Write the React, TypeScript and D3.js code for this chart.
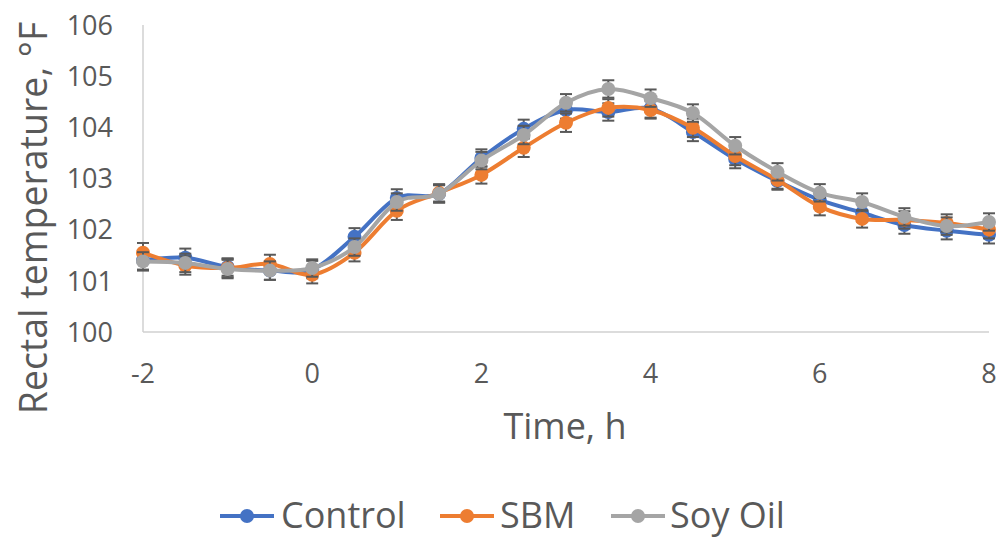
import React from "react";
import * as d3 from "d3";

// Sampling times (h) relative to challenge
const times = [-2, -1.5, -1, -0.5, 0, 0.5, 1, 1.5, 2, 2.5, 3, 3.5, 4, 4.5, 5, 5.5, 6, 6.5, 7, 7.5, 8];

// Mean rectal temperature (°F) per treatment
const control = [101.40, 101.45, 101.27, 101.20, 101.22, 101.86, 102.62, 102.70, 103.40, 103.97, 104.34, 104.30, 104.37, 103.91, 103.38, 102.95, 102.58, 102.33, 102.09, 101.98, 101.90];
const sbm = [101.55, 101.30, 101.25, 101.33, 101.12, 101.55, 102.37, 102.72, 103.07, 103.60, 104.09, 104.38, 104.34, 103.99, 103.44, 102.97, 102.45, 102.21, 102.19, 102.13, 102.00];
const soyOil = [101.38, 101.35, 101.23, 101.20, 101.25, 101.66, 102.54, 102.70, 103.35, 103.85, 104.48, 104.75, 104.57, 104.28, 103.64, 103.13, 102.72, 102.54, 102.25, 102.07, 102.15];

// Standard errors
const controlSe = [0.18, 0.18, 0.17, 0.18, 0.17, 0.17, 0.17, 0.17, 0.17, 0.18, 0.17, 0.17, 0.18, 0.18, 0.18, 0.17, 0.17, 0.17, 0.17, 0.17, 0.17];
const sbmSe = [0.19, 0.18, 0.18, 0.18, 0.17, 0.17, 0.18, 0.17, 0.17, 0.18, 0.18, 0.17, 0.17, 0.18, 0.18, 0.17, 0.17, 0.17, 0.17, 0.17, 0.17];
const soyOilSe = [0.18, 0.18, 0.18, 0.18, 0.17, 0.17, 0.17, 0.17, 0.17, 0.18, 0.17, 0.17, 0.17, 0.17, 0.17, 0.17, 0.17, 0.17, 0.17, 0.17, 0.17];

const seriesNames = ["Control", "SBM", "Soy Oil"];
const seriesColors = ["#4472C4", "#ED7D31", "#A5A5A5"];

const xTicks = [-2, 0, 2, 4, 6, 8];
const yTicks = [100, 101, 102, 103, 104, 105, 106];

const FONT = "'Open Sans', 'Noto Sans', sans-serif";
const TEXT = "#595959";

export default function App() {
  const x = d3.scaleLinear().domain([-2, 8]).range([143, 989]);
  const y = d3.scaleLinear().domain([100, 106]).range([332, 25]);

  const series = [
    { name: seriesNames[0], color: seriesColors[0], values: control, se: controlSe },
    { name: seriesNames[1], color: seriesColors[1], values: sbm, se: sbmSe },
    { name: seriesNames[2], color: seriesColors[2], values: soyOil, se: soyOilSe },
  ];

  const line = d3
    .line<number>()
    .x((_, i) => x(times[i]))
    .y((d) => y(d))
    .curve(d3.curveCardinal.tension(0));

  const legendItems = [
    { lineX: 220, textX: 281 },
    { lineX: 440, textX: 500 },
    { lineX: 611, textX: 670 },
  ];

  return (
    <svg
      width={1005}
      height={550}
      style={{ position: "absolute", left: 0, top: 0, background: "#fff" }}
      fontFamily={FONT}
    >
      {/* axes */}
      <line x1={x(-2)} x2={x(-2)} y1={y(106)} y2={y(100)} stroke="#D0D0D0" strokeWidth={1.5} />
      <line x1={x(-2)} x2={x(8)} y1={y(100)} y2={y(100)} stroke="#D0D0D0" strokeWidth={1.5} />

      {yTicks.map((t) => (
        <text key={t} x={113} y={y(t)} dy="0.36em" textAnchor="end" fontSize={27} fill={TEXT}>
          {t}
        </text>
      ))}
      {xTicks.map((t) => (
        <text key={t} x={x(t)} y={383} textAnchor="middle" fontSize={27} fill={TEXT}>
          {t}
        </text>
      ))}

      <text x={565} y={439} textAnchor="middle" fontSize={36} fill={TEXT}>
        Time, h
      </text>
      <text
        transform={`translate(47,218) rotate(-90)`}
        textAnchor="middle"
        fontSize={37.5}
        fill={TEXT}
      >
        Rectal temperature, °F
      </text>

      {series.map((s) => (
        <g key={s.name}>
          <path d={line(s.values) || ""} fill="none" stroke={s.color} strokeWidth={4} />
          {s.values.map((v, i) => {
            const cx = x(times[i]);
            return (
              <g key={i} stroke="#595959" strokeWidth={2}>
                <line x1={cx} x2={cx} y1={y(v + s.se[i])} y2={y(v - s.se[i])} />
                <line x1={cx - 6} x2={cx + 6} y1={y(v + s.se[i])} y2={y(v + s.se[i])} />
                <line x1={cx - 6} x2={cx + 6} y1={y(v - s.se[i])} y2={y(v - s.se[i])} />
              </g>
            );
          })}
          {s.values.map((v, i) => (
            <circle key={i} cx={x(times[i])} cy={y(v)} r={7} fill={s.color} />
          ))}
        </g>
      ))}

      {series.map((s, i) => {
        const L = legendItems[i];
        return (
          <g key={s.name}>
            <line x1={L.lineX} x2={L.lineX + 54} y1={516} y2={516} stroke={s.color} strokeWidth={4} />
            <circle cx={L.lineX + 27} cy={516} r={7} fill={s.color} />
            <text x={L.textX} y={528} fontSize={36} fill={TEXT}>
              {s.name}
            </text>
          </g>
        );
      })}
    </svg>
  );
}
